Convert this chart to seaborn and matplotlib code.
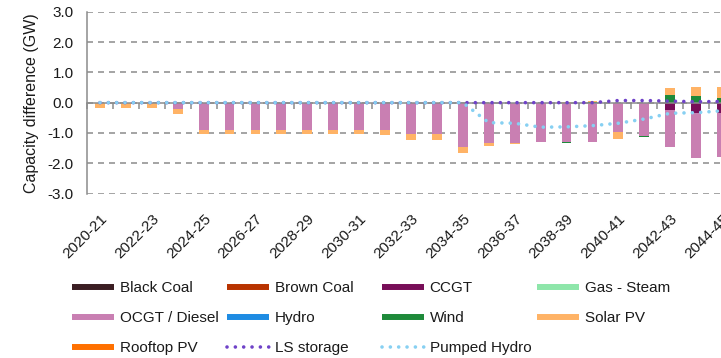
import numpy as np
import matplotlib
matplotlib.use("Agg")
import matplotlib.pyplot as plt
from matplotlib.lines import Line2D
from matplotlib.ticker import FormatStrFormatter
import seaborn as sns

# Financial years on the category axis
years = ["2020-21", "2021-22", "2022-23", "2023-24", "2024-25", "2025-26", "2026-27",
         "2027-28", "2028-29", "2029-30", "2030-31", "2031-32", "2032-33", "2033-34",
         "2034-35", "2035-36", "2036-37", "2037-38", "2038-39", "2039-40", "2040-41",
         "2041-42", "2042-43", "2043-44", "2044-45"]

# Capacity difference by technology (GW)
black_coal = [0, 0, 0, 0, 0, 0, 0, 0, 0, 0, 0, 0, 0, 0, 0, 0, 0, 0, 0, 0, 0, 0, 0, 0, 0]
brown_coal = [0, 0, 0, 0, 0, 0, 0, 0, 0, 0, 0, 0, 0, 0, 0, 0, 0, 0, 0, 0, 0, 0, 0, 0, 0]
ccgt = [0, 0, 0, 0, 0, 0, 0, 0, 0, 0, 0, 0, 0, 0, 0, 0, 0, 0, 0, 0, 0, 0,
        -0.24, -0.35, -0.33]
gas_steam = [0, 0, 0, 0, 0, 0, 0, 0, 0, 0, 0, 0, 0, 0, 0, 0, 0, 0, 0, 0, 0, 0, 0, 0, 0]
ocgt_diesel = [0, 0, 0, -0.22, -0.89, -0.89, -0.89, -0.89, -0.89, -0.89, -0.89, -0.90,
               -1.04, -1.04, -1.45, -1.33, -1.33, -1.31, -1.31, -1.31, -0.98, -1.09,
               -1.23, -1.49, -1.47]
hydro = [0, 0, 0, 0, 0, 0, 0, 0, 0, 0, 0, 0, 0, 0, 0, 0, 0, 0, 0, 0, 0, 0, 0, 0, 0]
wind = [0, 0, 0, 0, 0, 0, 0, 0, 0, 0, 0, 0, 0, 0, 0, 0, 0, 0, -0.03, 0.02, 0, -0.03,
        0.24, 0.23, 0.16]
solar_pv = [-0.19, -0.17, -0.17, -0.14, -0.14, -0.14, -0.14, -0.14, -0.14, -0.14, -0.14,
            -0.18, -0.19, -0.19, -0.21, -0.11, -0.05, 0, 0.03, 0.03, -0.22, 0,
            0.25, 0.30, 0.37]
rooftop_pv = [0, 0, 0, 0, 0, 0, 0, 0, 0, 0, 0, 0, 0, 0, 0, 0, 0, 0, 0, 0, 0, 0, 0, 0, 0]
ls_storage = [0, 0, 0, 0, 0, 0, 0, 0, 0, 0, 0, 0, 0, 0, 0, 0, 0, 0, 0, 0, 0.07, 0.07,
              0.05, 0.03, 0.04]
pumped_hydro = [0, 0, 0, 0, 0, 0, 0, 0, 0, 0, 0, 0, 0, 0, 0, -0.66, -0.68, -0.81, -0.80,
                -0.76, -0.68, -0.54, -0.35, -0.33, -0.27]

bar_series = [
    ("Black Coal", black_coal, "#3B1E23"),
    ("Brown Coal", brown_coal, "#B83300"),
    ("CCGT", ccgt, "#780E58"),
    ("Gas - Steam", gas_steam, "#8EE6AA"),
    ("OCGT / Diesel", ocgt_diesel, "#C97FB2"),
    ("Hydro", hydro, "#1E8CE3"),
    ("Wind", wind, "#1E8A3A"),
    ("Solar PV", solar_pv, "#FFB366"),
    ("Rooftop PV", rooftop_pv, "#FF7000"),
]
line_series = [
    ("LS storage", ls_storage, "#6F42C8"),
    ("Pumped Hydro", pumped_hydro, "#87D0F2"),
]

sns.set_style("white")
plt.rcParams["font.family"] = ["Liberation Sans", "DejaVu Sans"]
plt.rcParams["font.size"] = 11
plt.rcParams["axes.unicode_minus"] = False

W, H = 721, 358
fig = plt.figure(figsize=(W / 100, H / 100), dpi=100)
ax = fig.add_axes([87 / W, 1 - 193.5 / H, 648 / W, 181.7 / H])

grey = "#8C8C8C"
n = len(years)
pos_base = np.zeros(n)
neg_base = np.zeros(n)
for name, vals, color in bar_series:
    v = np.asarray(vals, dtype=float)
    bottom = np.where(v >= 0, pos_base, neg_base)
    sns.barplot(x=years, y=v, order=years, bottom=bottom, color=color, saturation=1,
                width=0.38, errorbar=None, edgecolor="none", linewidth=0, zorder=2, ax=ax)
    pos_base += np.clip(v, 0, None)
    neg_base += np.clip(v, None, 0)

dot = (0, (0.01, 2.3))
for z, (name, vals, color) in enumerate(line_series):
    sns.lineplot(x=np.arange(n), y=vals, color=color, linewidth=2.6, linestyle=dot,
                 dash_capstyle="round", zorder=4 + z, ax=ax)

ax.set_xlim(-0.5, n - 0.5)
ax.set_ylim(-3, 3)
ax.set_yticks(np.arange(-3, 3.5, 1))
ax.yaxis.set_major_formatter(FormatStrFormatter("%.1f"))
ax.set_xticks(np.arange(0, n, 2))
ax.set_xticklabels(years[::2], rotation=45, ha="right", va="top", rotation_mode="anchor")
ax.tick_params(axis="x", length=0, pad=13, labelsize=11, colors="#1A1A1A")
ax.tick_params(axis="y", direction="inout", length=7, width=1.1, color=grey,
               pad=6, labelsize=11, labelcolor="#1A1A1A")
ax.set_xlabel("")
ax.set_ylabel("Capacity difference (GW)", fontsize=11.5, labelpad=6, color="#1A1A1A")

for side in ("top", "right", "bottom"):
    ax.spines[side].set_visible(False)
ax.spines["left"].set_color(grey)
ax.spines["left"].set_linewidth(1.1)
ax.set_axisbelow(True)
ax.yaxis.grid(True, color="#A6A6A6", linewidth=1.44, linestyle=(0, (3, 2.5)))
ax.xaxis.grid(False)

# Category axis crossing at zero, with ticks between categories
zero_axis = ax.secondary_xaxis(0, transform=ax.transData)
zero_axis.set_xticks(np.arange(n + 1) - 0.5)
zero_axis.tick_params(axis="x", direction="out", length=4, width=1.1, color=grey,
                      labelbottom=False, labeltop=False)
for sp in zero_axis.spines.values():
    sp.set_color(grey)
    sp.set_linewidth(1.1)
zero_axis.set_zorder(3)

# Legend laid out in four columns
handles = {}
for name, vals, color in bar_series:
    handles[name] = Line2D([], [], color=color, linewidth=4.3, solid_capstyle="butt")
for name, vals, color in line_series:
    handles[name] = Line2D([], [], color=color, linewidth=2.6, linestyle=dot,
                           dash_capstyle="round")
columns = [["Black Coal", "OCGT / Diesel", "Rooftop PV"],
           ["Brown Coal", "Hydro", "LS storage"],
           ["CCGT", "Wind", "Pumped Hydro"],
           ["Gas - Steam", "Solar PV"]]
col_x = [72, 227, 382, 537]
for cx, names in zip(col_x, columns):
    fig.legend([handles[k] for k in names], names, loc="upper left",
               bbox_to_anchor=(cx / W, 1 - 281.5 / H), frameon=False, borderpad=0,
               borderaxespad=0, handlelength=2.75, handletextpad=0.37,
               labelspacing=1.03, fontsize=11, labelcolor="#1A1A1A")

fig.savefig("out.png", dpi=100, facecolor="white")
